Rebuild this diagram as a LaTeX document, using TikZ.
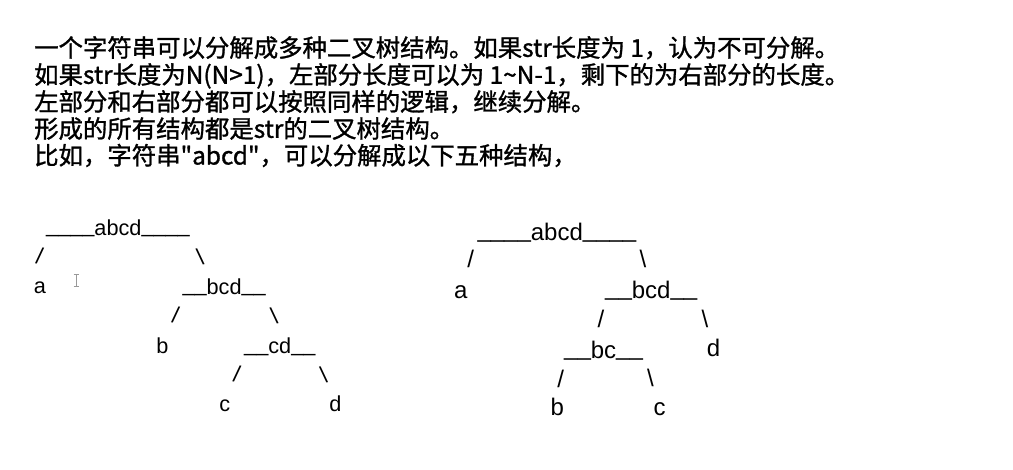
\documentclass[tikz,border=0pt]{standalone}
\usepackage{fontspec}
\newfontfamily\cjkfont{Noto Sans CJK SC}[FakeBold=1.2]
\newfontfamily\arialf{Liberation Sans}
\begin{document}
\begin{tikzpicture}[x=1pt,y=-1pt,
  cn/.style={anchor=base west, inner sep=0pt, font=\cjkfont\fontsize{24.4}{28}\selectfont},
  ta/.style={anchor=base west, inner sep=0pt, font=\arialf\fontsize{21.7}{24}\selectfont},
  tb/.style={anchor=base west, inner sep=0pt, font=\arialf\fontsize{24}{27}\selectfont},
  la/.style={anchor=base, inner sep=0pt, font=\arialf\fontsize{21.7}{24}\selectfont},
  lb/.style={anchor=base, inner sep=0pt, font=\arialf\fontsize{24}{27}\selectfont},
  sa/.style={anchor=center, inner sep=0pt, font=\arialf\fontsize{23}{24}\selectfont},
  sb/.style={anchor=center, inner sep=0pt, font=\arialf\fontsize{24}{27}\selectfont}]
\fill[white] (0,0) rectangle (1013,469);
\useasboundingbox (0,0) rectangle (1013,469);
\newcommand{\us}[1]{\raisebox{2.5pt}{#1}}
\newcommand{\lsl}{\rotatebox{-10}{/}}
\newcommand{\rsl}{\rotatebox{10}{\textbackslash}}
% text lines
\node[cn] (l1) at (34,56.8) {一个字符串可以分解成多种二叉树结构。如果str长度为 1，认为不可分解。};
\node[cn] (l2) at (34,83.8) {如果str长度为N(N>1)，左部分长度可以为 1\textasciitilde N-1，剩下的为右部分的长度。};
\node[cn] (l3) at (34,110.8) {左部分和右部分都可以按照同样的逻辑，继续分解。};
\node[cn] (l4) at (34,137.8) {形成的所有结构都是str的二叉树结构。};
\node[cn] (l5) at (34,164.5) {比如，字符串"abcd"，可以分解成以下五种结构，};
% tree 1
\node[ta] (r1) at (46,235) {\us{\_\_\_\_}abcd\us{\_\_\_\_}};
\node[sa] (r1l) at (39.7,255.5) {\lsl};
\node[sa] (r1r) at (200,256.7) {\rsl};
\node[la] (a1) at (40,293.3) {a};
\node[ta] (n1) at (182.3,294.3) {\us{\_\_}bcd\us{\_\_}};
\node[sa] (n1l) at (175.7,315) {\lsl};
\node[sa] (n1r) at (274,316.3) {\rsl};
\node[la] (b1) at (162.3,353.3) {b};
\node[ta] (m1) at (244,353.5) {\us{\_\_}cd\us{\_\_}};
\node[sa] (m1l) at (237,374) {\lsl};
\node[sa] (m1r) at (323.7,375) {\rsl};
\node[la] (c1) at (224.7,411.7) {c};
\node[la] (d1) at (335.3,411.7) {d};
% cursor
\draw[gray!80, line width=0.9pt] (76,274) -- (76,286) (73.5,274) -- (78.5,274) (73.5,286) -- (78.5,286);
% tree 2
\node[tb] (r2) at (477.3,240) {\us{\_\_\_\_}abcd\us{\_\_\_\_}};
\node[sb] (r2l) at (470.8,259.2) {/};
\node[sb] (r2r) at (643,259) {\textbackslash};
\node[lb] (a2) at (460.8,298.3) {a};
\node[tb] (n2) at (605,298.3) {\us{\_\_}bcd\us{\_\_}};
\node[sb] (n2l) at (601,319) {/};
\node[sb] (n2r) at (705,319) {\textbackslash};
\node[lb] (d2) at (713.5,356.7) {d};
\node[tb] (m2) at (564,358.3) {\us{\_\_}bc\us{\_\_}};
\node[sb] (m2l) at (560.8,379) {/};
\node[sb] (m2r) at (650.5,378) {\textbackslash};
\node[lb] (b2) at (557.2,415) {b};
\node[lb] (c2) at (659.7,415) {c};
\end{tikzpicture}
\end{document}
